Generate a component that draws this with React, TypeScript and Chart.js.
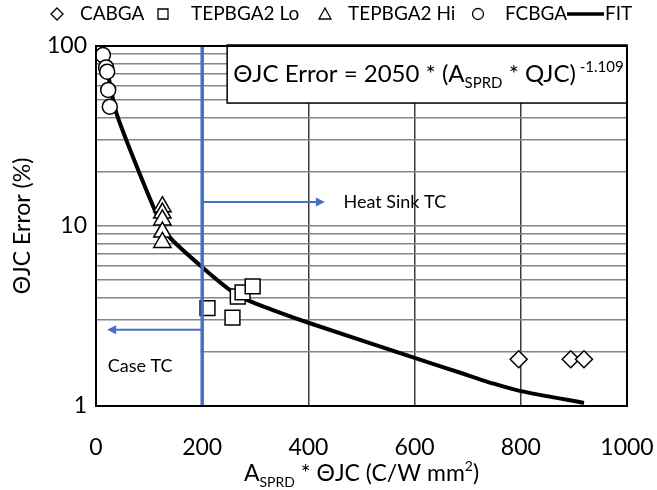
import React, { useEffect, useRef } from 'react';
import { Chart, registerables } from 'chart.js';

Chart.register(...registerables);

// ---- data ----
const cabgaX = [796, 894, 919];
const cabgaY = [1.82, 1.82, 1.82];
const tepLoX = [210, 257, 267, 276, 295];
const tepLoY = [3.5, 3.1, 4.06, 4.28, 4.62];
const tepHiX = [125, 125, 125, 125, 125];
const tepHiY = [12.8, 11.8, 10.8, 9.25, 8.1];
const fcbgaX = [13, 19, 21, 23, 26];
const fcbgaY = [89, 76, 72, 57, 46];
const fitX = [13, 38, 113, 138, 200, 257, 283, 346, 400, 600, 686, 749, 800, 919];
const fitY = [100, 42.8, 11.8, 8.7, 5.9, 4.3, 3.9, 3.3, 2.9, 1.85, 1.53, 1.33, 1.21, 1.04];

const seriesNames = ['CABGA', 'TEPBGA2 Lo', 'TEPBGA2 Hi', 'FCBGA', 'FIT'];
const xTickValues = [0, 200, 400, 600, 800, 1000];
const yTickValues = [1, 2, 3, 4, 5, 6, 7, 8, 9, 10, 20, 30, 40, 50, 60, 70, 80, 90, 100];
const yLabelValues = [1, 10, 100];

const caseTcX = 200;
const heatSinkArrow = { x0: 200, x1: 431, y: 13.6 };
const caseArrow = { x0: 200, x1: 21, y: 2.65 };
const heatSinkLabel = { x: 466, y: 13.6, text: 'Heat Sink TC' };
const caseLabel = { x: 22, y: 1.67, text: 'Case TC' };
const eqBox = { x0: 247, x1: 1000, y0: 100, y1: 48.2 };

const FONT = 'Lato, "Open Sans", sans-serif';
const BLUE = '#4472C4';

const pts = (xs: number[], ys: number[]) => xs.map((x, i) => ({ x, y: ys[i] }));

type Part = { t: string; size: number; dy: number };

function drawRich(ctx: CanvasRenderingContext2D, parts: Part[], x: number, y: number, align: 'left' | 'center') {
  let total = 0;
  for (const p of parts) {
    ctx.font = `${p.size}px ${FONT}`;
    total += ctx.measureText(p.t).width;
  }
  let cx = align === 'center' ? x - total / 2 : x;
  ctx.textAlign = 'left';
  ctx.textBaseline = 'alphabetic';
  for (const p of parts) {
    ctx.font = `${p.size}px ${FONT}`;
    ctx.fillText(p.t, cx, y + p.dy);
    cx += ctx.measureText(p.t).width;
  }
}

function arrow(ctx: CanvasRenderingContext2D, x0: number, x1: number, y: number) {
  const dir = x1 > x0 ? 1 : -1;
  ctx.strokeStyle = BLUE;
  ctx.fillStyle = BLUE;
  ctx.lineWidth = 2;
  ctx.beginPath();
  ctx.moveTo(x0, y);
  ctx.lineTo(x1 - dir * 7, y);
  ctx.stroke();
  ctx.beginPath();
  ctx.moveTo(x1, y);
  ctx.lineTo(x1 - dir * 9, y - 4.5);
  ctx.lineTo(x1 - dir * 9, y + 4.5);
  ctx.closePath();
  ctx.fill();
}

const overlayPlugin = {
  id: 'overlay',
  afterDatasetsDraw(chart: any) {
    const ctx: CanvasRenderingContext2D = chart.ctx;
    const xs = chart.scales.x;
    const ys = chart.scales.y;
    const area = chart.chartArea;
    const px = (v: number) => xs.getPixelForValue(v);
    const py = (v: number) => ys.getPixelForValue(v);
    ctx.save();

    // equation box
    const bx0 = px(eqBox.x0), bx1 = px(eqBox.x1), by0 = py(eqBox.y0) - 1, by1 = py(eqBox.y1);
    ctx.fillStyle = '#fff';
    ctx.fillRect(bx0, by0, bx1 - bx0, by1 - by0);
    ctx.strokeStyle = '#000';
    ctx.lineWidth = 1.5;
    ctx.strokeRect(bx0, by0, bx1 - bx0, by1 - by0);
    ctx.fillStyle = '#000';
    drawRich(ctx, [
      { t: '\u0398JC Error = 2050 * (A', size: 24, dy: 0 },
      { t: 'SPRD', size: 15, dy: 6 },
      { t: ' * QJC)', size: 24, dy: 0 },
      { t: ' -1.109', size: 15, dy: -10 },
    ], bx0 + 6, (by0 + by1) / 2 + 8, 'left');

    // case TC white box
    ctx.fillStyle = '#fff';
    ctx.fillRect(area.left + 1, py(caseLabel.y) - 18, px(caseTcX) - area.left - 3, 36);

    // blue vertical line
    ctx.strokeStyle = BLUE;
    ctx.lineWidth = 3.5;
    ctx.beginPath();
    ctx.moveTo(px(caseTcX), area.top);
    ctx.lineTo(px(caseTcX), area.bottom);
    ctx.stroke();

    arrow(ctx, px(heatSinkArrow.x0) + 1, px(heatSinkArrow.x1), py(heatSinkArrow.y));
    arrow(ctx, px(caseArrow.x0) - 1, px(caseArrow.x1), py(caseArrow.y));

    ctx.fillStyle = '#000';
    ctx.font = `18px ${FONT}`;
    ctx.textAlign = 'left';
    ctx.textBaseline = 'middle';
    ctx.fillText(heatSinkLabel.text, px(heatSinkLabel.x), py(heatSinkLabel.y));
    ctx.fillText(caseLabel.text, px(caseLabel.x), py(caseLabel.y));
    ctx.restore();
  },
  afterDraw(chart: any) {
    const ctx: CanvasRenderingContext2D = chart.ctx;
    const area = chart.chartArea;
    ctx.save();
    // plot border
    ctx.strokeStyle = '#000';
    ctx.lineWidth = 2;
    ctx.strokeRect(area.left, area.top, area.right - area.left, area.bottom - area.top);

    // legend
    const ly = 14;
    const symX = [57, 163, 325, 478];
    const textX = [80, 191, 348, 505];
    ctx.lineWidth = 1.3;
    ctx.strokeStyle = '#000';
    ctx.fillStyle = '#fff';
    ctx.beginPath();
    ctx.moveTo(symX[0], ly - 6); ctx.lineTo(symX[0] + 6, ly); ctx.lineTo(symX[0], ly + 6); ctx.lineTo(symX[0] - 6, ly); ctx.closePath();
    ctx.fill(); ctx.stroke();
    ctx.beginPath(); ctx.rect(symX[1] - 5, ly - 5, 10, 10); ctx.fill(); ctx.stroke();
    ctx.beginPath();
    ctx.moveTo(symX[2], ly - 6); ctx.lineTo(symX[2] + 6, ly + 5); ctx.lineTo(symX[2] - 6, ly + 5); ctx.closePath();
    ctx.fill(); ctx.stroke();
    ctx.beginPath(); ctx.arc(symX[3], ly, 5.5, 0, Math.PI * 2); ctx.fill(); ctx.stroke();
    ctx.lineWidth = 3.5;
    ctx.beginPath(); ctx.moveTo(567, ly); ctx.lineTo(604, ly); ctx.stroke();

    ctx.fillStyle = '#000';
    ctx.font = `19px ${FONT}`;
    ctx.textAlign = 'left';
    ctx.textBaseline = 'middle';
    for (let i = 0; i < 4; i++) ctx.fillText(seriesNames[i], textX[i], ly);
    ctx.fillText(seriesNames[4], 605, ly);

    // x axis title
    drawRich(ctx, [
      { t: 'A', size: 23, dy: 0 },
      { t: 'SPRD', size: 14, dy: 6 },
      { t: ' * \u0398JC (C/W mm', size: 23, dy: 0 },
      { t: '2', size: 14, dy: -10 },
      { t: ')', size: 23, dy: 0 },
    ], (area.left + area.right) / 2, 481, 'center');

    // y axis title
    ctx.save();
    ctx.translate(23, (area.top + area.bottom) / 2);
    ctx.rotate(-Math.PI / 2);
    ctx.font = `23px ${FONT}`;
    ctx.textAlign = 'center';
    ctx.textBaseline = 'middle';
    ctx.fillText('\u0398JC Error (%)', 0, 0);
    ctx.restore();

    ctx.restore();
  },
};

export default function App() {
  const ref = useRef<HTMLCanvasElement | null>(null);
  useEffect(() => {
    if (!ref.current) return;
    const markerBase = {
      showLine: false,
      pointBackgroundColor: '#fff',
      pointBorderColor: '#000',
      pointBorderWidth: 1.5,
      borderColor: '#000',
      backgroundColor: '#fff',
    };
    const chart = new Chart(ref.current, {
      type: 'scatter',
      data: {
        datasets: [
          { ...markerBase, label: seriesNames[0], data: pts(cabgaX, cabgaY), pointStyle: 'rectRot', pointRadius: 8.5 },
          { ...markerBase, label: seriesNames[1], data: pts(tepLoX, tepLoY), pointStyle: 'rect', pointRadius: 10.5 },
          { ...markerBase, label: seriesNames[2], data: pts(tepHiX, tepHiY), pointStyle: 'triangle', pointRadius: 10 },
          { ...markerBase, label: seriesNames[3], data: pts(fcbgaX, fcbgaY), pointStyle: 'circle', pointRadius: 7.5 },
          {
            label: seriesNames[4], data: pts(fitX, fitY), showLine: true, borderColor: '#000', borderWidth: 4,
            pointRadius: 0, fill: false, tension: 0.2, borderCapStyle: 'butt', borderJoinStyle: 'round',
          } as any,
        ],
      },
      options: {
        animation: false,
        responsive: true,
        maintainAspectRatio: false,
        layout: { padding: { top: 46, right: 30, left: 0, bottom: 0 } },
        plugins: { legend: { display: false }, tooltip: { enabled: false } },
        scales: {
          x: {
            type: 'linear', min: 0, max: 1000,
            afterBuildTicks: (s: any) => { s.ticks = xTickValues.map((v) => ({ value: v })); },
            afterFit: (s: any) => { s.height = 84; s.paddingLeft = 0; s.paddingRight = 0; },
            border: { display: false },
            grid: { color: '#3a3a3a', lineWidth: 1.5, drawTicks: false },
            ticks: {
              color: '#000', font: { family: FONT, size: 23 }, padding: 28, maxRotation: 0, autoSkip: false,
              callback: (v: any) => String(v),
            },
          },
          y: {
            type: 'logarithmic', min: 1, max: 100,
            afterBuildTicks: (s: any) => { s.ticks = yTickValues.map((v) => ({ value: v })); },
            afterFit: (s: any) => { s.width = 96; s.paddingTop = 0; s.paddingBottom = 0; },
            border: { display: false },
            grid: { color: '#858585', lineWidth: 1.5, drawTicks: false },
            ticks: {
              color: '#000', font: { family: FONT, size: 23 }, padding: 9, autoSkip: false,
              callback: (v: any) => (yLabelValues.includes(Number(v)) ? String(v) : ''),
            },
          },
        },
      } as any,
      plugins: [overlayPlugin],
    });
    return () => chart.destroy();
  }, []);
  return (
    <div style={{ position: 'fixed', left: 0, top: 0, width: 657, height: 490 }}>
      <canvas ref={ref} />
    </div>
  );
}
